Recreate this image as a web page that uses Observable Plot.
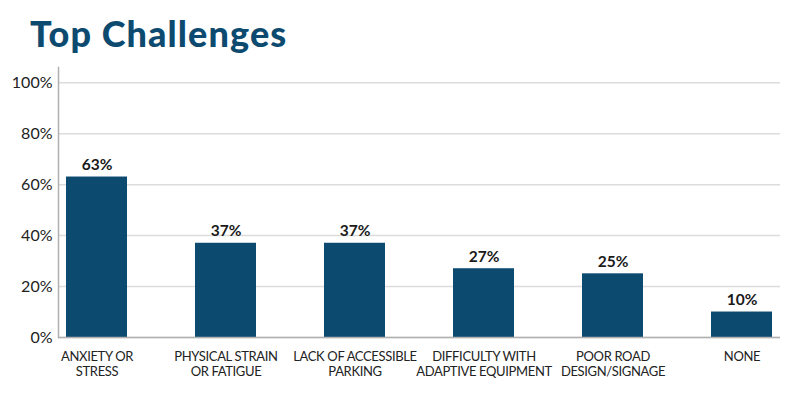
<!DOCTYPE html>
<html>
<head>
<meta charset="utf-8">
<script src="https://cdn.jsdelivr.net/npm/d3@7"></script>
<script src="https://cdn.jsdelivr.net/npm/@observablehq/plot@0.6"></script>
<style>
  html, body { margin: 0; padding: 0; background: #fff; }
  #wrap { width: 789px; height: 395px; position: relative; font-family: Lato, sans-serif; }
  h1 { margin: 0; position: absolute; left: 30px; top: 10px; font-family: Lato, sans-serif; font-weight: 900; font-size: 36px; color: #0d4a70; letter-spacing: 1.1px; line-height: 46px; }
  #chart { position: absolute; left: 0; top: 60px; }
  #chart g[aria-label="x-axis tick label"] text { letter-spacing: -0.35px; }
</style>
</head>
<body>
<div id="wrap">
  <h1>Top Challenges</h1>
  <div id="chart"></div>
</div>
<script>
const categories = [
  "ANXIETY OR\nSTRESS",
  "PHYSICAL STRAIN\nOR FATIGUE",
  "LACK OF ACCESSIBLE\nPARKING",
  "DIFFICULTY WITH\nADAPTIVE EQUIPMENT",
  "POOR ROAD\nDESIGN/SIGNAGE",
  "NONE"
];
const values = [0.63, 0.37, 0.37, 0.27, 0.25, 0.10];
const yTicks = [0, 0.2, 0.4, 0.6, 0.8, 1.0];

const data = categories.map((c, i) => ({category: c, value: values[i]}));
const fmt = d => Math.round(d * 100) + "%";

const chart = Plot.plot({
  width: 789,
  height: 335,
  marginTop: 7,
  marginLeft: 58,
  marginRight: 9,
  marginBottom: 58,
  style: {fontFamily: "Lato, sans-serif", color: "#222", background: "transparent"},
  x: {domain: categories, type: "band", paddingInner: 0.53, paddingOuter: 0.055},
  y: {domain: [0, 1.06]},
  marks: [
    Plot.gridY(yTicks, {stroke: "#dcdcdc", strokeOpacity: 1, strokeWidth: 1.5}),
    Plot.barY(data, {x: "category", y: "value", fill: "#0d4a70"}),
    Plot.text(data, {x: "category", y: "value", text: d => fmt(d.value), dy: -7, lineAnchor: "bottom", fontSize: 15.5, fontWeight: "bold", fill: "#1a1a1a"}),
    Plot.ruleY([0], {stroke: "#b0b0b0", strokeWidth: 1.5}),
    Plot.frame({anchor: "left", stroke: "#b0b0b0", strokeWidth: 1.5}),
    Plot.axisY({ticks: yTicks, tickFormat: fmt, tickSize: 0, tickPadding: 6, fontSize: 16, fill: "#222", label: null}),
    Plot.axisX({tickSize: 0, tickPadding: 13, fontSize: 13, lineHeight: 1.15, fill: "#222", label: null})
  ]
});
document.getElementById("chart").appendChild(chart);
</script>
</body>
</html>
